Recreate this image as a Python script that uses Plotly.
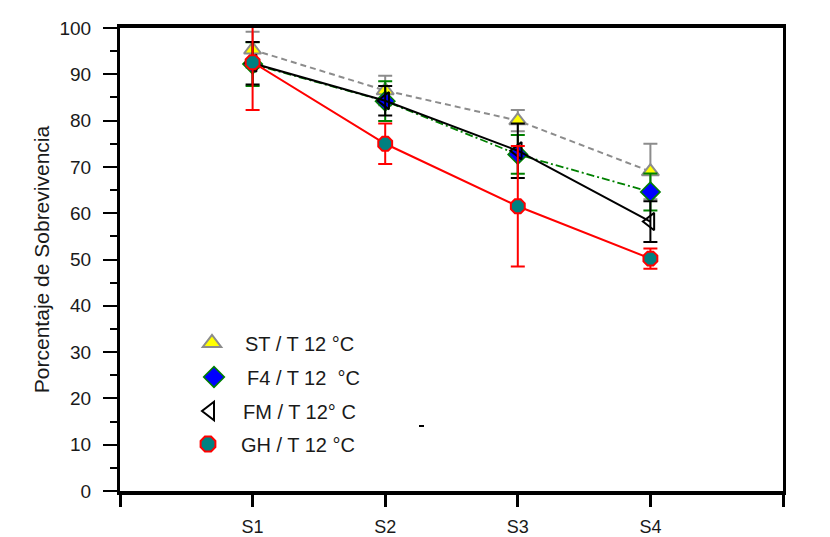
import plotly.graph_objects as go

# ---- data ----
categories = ["S1", "S2", "S3", "S4"]
x_pos = [1, 2, 3, 4]

st_vals = [95.3, 86.5, 80.0, 69.0]
st_err = [3.9, 3.2, 2.3, 6.0]

f4_vals = [92.2, 84.2, 72.7, 64.6]
f4_err = [4.7, 4.3, 4.2, 4.0]

fm_vals = [92.4, 84.3, 73.5, 58.2]
fm_err = [4.6, 3.2, 5.9, 4.4]

gh_vals = [92.6, 75.0, 61.5, 50.2]
gh_err = [10.3, 4.4, 13.0, 2.2]

legend_labels = ["ST / T 12 °C", "F4 / T 12  °C", "FM / T 12° C", "GH / T 12 °C"]

y_ticks = [0, 10, 20, 30, 40, 50, 60, 70, 80, 90, 100]

FONT = "Liberation Sans, Arial, sans-serif"

# page offset (body margin) and plot area in absolute window pixels
OFF = 8
W, H = 830 - OFF, 537 - OFF
L_ABS, R_ABS, T_ABS, B_ABS = 120, 783, 28, 491
PW, PH = R_ABS - L_ABS, B_ABS - T_ABS


def px(xp):
    return (xp - L_ABS) / PW


def py(yp):
    return (B_ABS - yp) / PH


fig = go.Figure()

series = [
    dict(name=legend_labels[0], y=st_vals, e=st_err, ecol="#8c8c8c", line=dict(color="#8c8c8c", width=2, dash="6px,4px"),
         marker=dict(symbol="triangle-up", size=15, color="#ffff00", line=dict(color="#8c8c8c", width=2)), legend="legend"),
    dict(name=legend_labels[1], y=f4_vals, e=f4_err, ecol="#008000", line=dict(color="#008000", width=1.8, dash="8px,3px,2px,3px"),
         marker=dict(symbol="diamond", size=15, color="#0000ff", line=dict(color="#008000", width=1.5)), legend="legend2"),
    dict(name=legend_labels[2], y=fm_vals, e=fm_err, ecol="#000000", line=dict(color="#000000", width=2),
         marker=dict(symbol="triangle-left-open", size=15, color="#000000", line=dict(color="#000000", width=2)), legend="legend3"),
    dict(name=legend_labels[3], y=gh_vals, e=gh_err, ecol="#ff0000", line=dict(color="#ff0000", width=2),
         marker=dict(symbol="octagon", size=15, color="#008080", line=dict(color="#ff0000", width=2)), legend="legend4"),
]

for s in series:
    fig.add_trace(go.Scatter(
        x=x_pos, y=s["y"], mode="lines+markers", line=s["line"], marker=s["marker"],
        error_y=dict(type="data", array=s["e"], visible=True, color=s["ecol"], thickness=2, width=7),
        showlegend=False, cliponaxis=False, hoverinfo="skip"))

for s in series:
    m = dict(s["marker"])
    m["size"] = 20
    fig.add_trace(go.Scatter(
        x=[None], y=[None], mode="markers", marker=m, name=s["name"],
        showlegend=True, legend=s["legend"]))

legend_rows = [343, 377, 411, 444]
legend_textx = [245, 247, 243, 241]
for i, lg in enumerate(["legend", "legend2", "legend3", "legend4"]):
    fig.update_layout(**{lg: dict(
        x=px(legend_textx[i] - 66), y=py(legend_rows[i]), xanchor="left", yanchor="middle",
        bgcolor="rgba(0,0,0,0)", borderwidth=0, itemwidth=56,
        font=dict(family=FONT, size=20, color="#1a1a1a"))})

shapes = [
    dict(type="line", xref="paper", yref="paper", x0=px(419), x1=px(424), y0=py(426), y1=py(426),
         line=dict(color="#000000", width=2)),
]

fig.update_layout(
    width=W, height=H,
    margin=dict(l=L_ABS - OFF, r=W - (R_ABS - OFF), t=T_ABS - OFF, b=H - (B_ABS - OFF), autoexpand=False),
    paper_bgcolor="#ffffff", plot_bgcolor="#ffffff",
    font=dict(family=FONT, size=19, color="#1a1a1a"),
    shapes=shapes,
    xaxis=dict(
        range=[0, 5], tickvals=[0, 1, 2, 3, 4, 5], ticktext=[""] + categories + [""],
        showgrid=False, zeroline=False, showline=True, linecolor="#000000", linewidth=4, mirror=True,
        ticks="outside", ticklen=12, tickwidth=3, tickcolor="#000000",
        ticklabelstandoff=4, tickfont=dict(family=FONT, size=18, color="#1a1a1a"),
    ),
    yaxis=dict(
        range=[0, 100], tickvals=y_ticks,
        showgrid=False, zeroline=False, showline=True, linecolor="#000000", linewidth=3, mirror=True,
        ticks="outside", ticklen=14, tickwidth=2, tickcolor="#000000",
        minor=dict(dtick=5, tick0=0, ticks="outside", ticklen=7, tickwidth=2, tickcolor="#000000"),
        ticklabelstandoff=8,
        tickfont=dict(family=FONT, size=19, color="#1a1a1a"),
        title=dict(text="Porcentaje de Sobrevivencia", font=dict(family=FONT, size=21, color="#1a1a1a"), standoff=5),
    ),
)

fig.write_html("out.html")
